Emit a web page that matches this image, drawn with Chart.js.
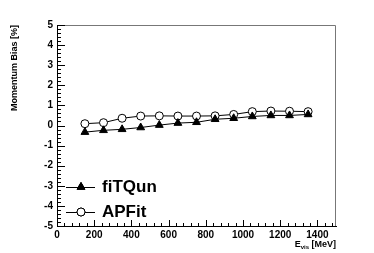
<!DOCTYPE html>
<html>
<head>
<meta charset="utf-8">
<script src="https://cdn.jsdelivr.net/npm/chart.js@4/dist/chart.umd.min.js"></script>
<style>
  html, body { margin: 0; padding: 0; background: #fff; }
  #wrap { width: 374px; height: 253px; }
</style>
</head>
<body>
<div id="wrap"><canvas id="myChart"></canvas></div>
<script>
// ---------- DATA ----------
var energies = [150, 250, 350, 450, 550, 650, 750, 850, 950, 1050, 1150, 1250, 1350];
var fitqunBias = [-0.33, -0.24, -0.19, -0.10, 0.02, 0.12, 0.16, 0.31, 0.36, 0.45, 0.50, 0.50, 0.55];
var apfitBias = [0.09, 0.14, 0.36, 0.47, 0.48, 0.47, 0.47, 0.48, 0.55, 0.69, 0.72, 0.71, 0.69];
var seriesNames = ["fiTQun", "APFit"];

function toPoints(xs, ys) {
  return xs.map(function (x, i) { return { x: x, y: ys[i] }; });
}

var font = "Liberation Sans, Arial, Helvetica, sans-serif";

// ROOT-like frame: inward ticks, axis titles, legend
var rootStyle = {
  id: "rootStyle",
  afterDraw: function (chart) {
    var c = chart.ctx;
    var a = chart.chartArea;
    var xs = chart.scales.x, ys = chart.scales.y;
    c.save();
    // top and right frame
    c.strokeStyle = "#777";
    c.lineWidth = 1;
    c.beginPath();
    c.moveTo(a.left, a.top + 0.5);
    c.lineTo(a.right - 0.5, a.top + 0.5);
    c.lineTo(a.right - 0.5, a.bottom);
    c.stroke();

    // ticks
    c.strokeStyle = "#000";
    c.beginPath();
    for (var v = 0; v <= 1500; v += 40) {
      var px = Math.round(xs.getPixelForValue(v)) + 0.5;
      var len = (v % 200 === 0) ? 6 : 3;
      c.moveTo(px, a.bottom);
      c.lineTo(px, a.bottom - len);
    }
    for (var k = -25; k <= 25; k++) {
      var py = Math.round(ys.getPixelForValue(k / 5)) + 0.5;
      var l = (k % 5 === 0) ? 8 : 4;
      c.moveTo(a.left, py);
      c.lineTo(a.left + l, py);
    }
    c.stroke();

    // y title
    c.fillStyle = "#000";
    c.font = "bold 9px " + font;
    c.save();
    c.translate(17, a.top);
    c.rotate(-Math.PI / 2);
    c.textAlign = "right";
    c.textBaseline = "alphabetic";
    c.fillText("Momentum Bias [%]", 0, 0);
    c.restore();

    // x title E_vis [MeV]
    c.textBaseline = "alphabetic";
    c.textAlign = "right";
    c.font = "bold 9px " + font;
    var rest = " [MeV]";
    var restW = c.measureText(rest).width;
    var xEnd = a.right;
    c.fillText(rest, xEnd, 247);
    c.font = "bold 6px " + font;
    var subW = c.measureText("vis").width;
    c.fillText("vis", xEnd - restW, 249);
    c.font = "bold 9px " + font;
    c.fillText("E", xEnd - restW - subW, 247);

    // legend
    var items = [
      { label: seriesNames[0], y: 187, ds: chart.data.datasets[0] },
      { label: seriesNames[1], y: 212, ds: chart.data.datasets[1] }
    ];
    items.forEach(function (it) {
      c.strokeStyle = "#000";
      c.lineWidth = 1;
      c.beginPath();
      c.moveTo(66, it.y + 0.5);
      c.lineTo(95, it.y + 0.5);
      c.stroke();
      Chart.helpers.drawPoint(c, {
        pointStyle: it.ds.pointStyle,
        radius: it.ds.pointRadius,
        borderWidth: 1
      }, 81, it.y);
      c.fillStyle = it.ds.pointBackgroundColor;
      c.strokeStyle = "#000";
      c.fill();
      c.stroke();
      c.fillStyle = "#000";
      c.font = "bold 17px " + font;
      c.textAlign = "left";
      c.textBaseline = "middle";
      c.fillText(it.label, 102, it.y);
    });
    c.restore();
  }
};

var ctx = document.getElementById("myChart").getContext("2d");
var myChart = new Chart(ctx, {
  type: "line",
  data: {
    datasets: [{
      label: seriesNames[0],
      data: toPoints(energies, fitqunBias),
      borderColor: "#000",
      borderWidth: 1,
      pointStyle: "triangle",
      pointRadius: 4.5,
      pointBackgroundColor: "#000",
      pointBorderColor: "#000",
      pointBorderWidth: 1,
      tension: 0
    }, {
      label: seriesNames[1],
      data: toPoints(energies, apfitBias),
      borderColor: "#000",
      borderWidth: 1,
      pointStyle: "circle",
      pointRadius: 4,
      pointBackgroundColor: "#fff",
      pointBorderColor: "#000",
      pointBorderWidth: 1,
      tension: 0
    }]
  },
  options: {
    responsive: true,
    maintainAspectRatio: false,
    animation: false,
    layout: { padding: { top: 25, right: 38, left: 0, bottom: 0 } },
    plugins: {
      legend: { display: false },
      tooltip: { enabled: false }
    },
    scales: {
      x: {
        type: "linear",
        min: 0,
        max: 1500,
        grid: { display: false, drawTicks: false },
        border: { display: true, color: "#000", width: 1 },
        ticks: {
          stepSize: 200,
          includeBounds: false,
          autoSkip: false,
          maxRotation: 0,
          color: "#000",
          padding: 3,
          font: { family: font, size: 10, weight: "bold" },
          callback: function (v) { return String(v); }
        },
        afterFit: function (scale) { scale.height = 27; }
      },
      y: {
        min: -5,
        max: 5,
        grid: { display: false, drawTicks: false },
        border: { display: true, color: "#000", width: 1 },
        ticks: {
          stepSize: 1,
          autoSkip: false,
          color: "#000",
          padding: 4,
          font: { family: font, size: 10, weight: "bold" }
        },
        afterFit: function (scale) { scale.width = 57; }
      }
    }
  },
  plugins: [rootStyle]
});
</script>
</body>
</html>
